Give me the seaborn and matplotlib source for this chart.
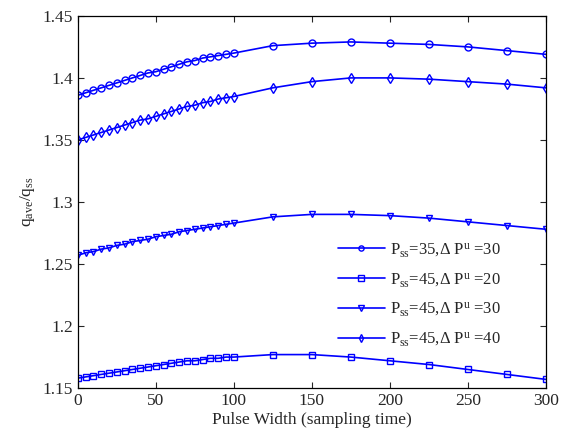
import matplotlib
matplotlib.use("Agg")
import matplotlib.pyplot as plt
import numpy as np
import pandas as pd
import seaborn as sns

PULSE_WIDTH = list(range(0, 101, 5)) + [125, 150, 175, 200, 225, 250, 275, 300]

Q_35_30 = [1.386, 1.388, 1.390, 1.392, 1.394, 1.396, 1.398, 1.400, 1.402, 1.404,
           1.405, 1.407, 1.409, 1.411, 1.413, 1.414, 1.416, 1.417, 1.418, 1.419,
           1.420, 1.426, 1.428, 1.429, 1.428, 1.427, 1.425, 1.422, 1.419]
Q_45_20 = [1.158, 1.159, 1.160, 1.161, 1.162, 1.163, 1.164, 1.165, 1.166, 1.167,
           1.168, 1.169, 1.170, 1.171, 1.172, 1.172, 1.173, 1.174, 1.174, 1.175,
           1.175, 1.177, 1.177, 1.175, 1.172, 1.169, 1.165, 1.161, 1.157]
Q_45_30 = [1.257, 1.259, 1.260, 1.262, 1.263, 1.265, 1.266, 1.268, 1.269, 1.270,
           1.272, 1.273, 1.274, 1.276, 1.277, 1.278, 1.279, 1.280, 1.281, 1.282,
           1.283, 1.288, 1.290, 1.290, 1.289, 1.287, 1.284, 1.281, 1.278]
Q_45_40 = [1.350, 1.352, 1.354, 1.356, 1.358, 1.360, 1.362, 1.364, 1.366, 1.367,
           1.369, 1.371, 1.373, 1.375, 1.377, 1.378, 1.380, 1.381, 1.383, 1.384,
           1.385, 1.392, 1.397, 1.400, 1.400, 1.399, 1.397, 1.395, 1.392]

LABELS = [
    r"$\mathregular{P_{ss}}$=35,$\mathregular{\Delta\ P^u}$ =30",
    r"$\mathregular{P_{ss}}$=45,$\mathregular{\Delta\ P^u}$ =20",
    r"$\mathregular{P_{ss}}$=45,$\mathregular{\Delta\ P^u}$ =30",
    r"$\mathregular{P_{ss}}$=45,$\mathregular{\Delta\ P^u}$ =40",
]
MARKERS = ["o", "s", "v", "d"]


def main():
    sns.set_style("ticks")
    plt.rcParams["font.family"] = ["Liberation Serif", "DejaVu Serif"]
    plt.rcParams["mathtext.fontset"] = "stix"
    plt.rcParams["xtick.direction"] = "in"
    plt.rcParams["ytick.direction"] = "in"

    fig = plt.figure(figsize=(5.68, 4.41), dpi=100)
    ax = fig.add_axes([0.137, 0.120, 0.824, 0.844])

    series = [Q_35_30, Q_45_20, Q_45_30, Q_45_40]
    for vals, label, marker in zip(series, LABELS, MARKERS):
        df = pd.DataFrame({"x": PULSE_WIDTH, "y": vals})
        sns.lineplot(
            data=df, x="x", y="y", ax=ax, color="#0000ff", linewidth=1.2,
            marker=marker, markersize=5,
            markerfacecolor="none", markeredgecolor="#0000ff",
            markeredgewidth=1.0, label=label,
        )

    ax.set_xlim(0, 300)
    ax.set_ylim(1.15, 1.45)
    ax.set_xticks([0, 50, 100, 150, 200, 250, 300])
    ax.set_yticks([1.15, 1.2, 1.25, 1.3, 1.35, 1.4, 1.45])
    ax.set_yticklabels(["1.15", "1.2", "1.25", "1.3", "1.35", "1.4", "1.45"])
    ax.tick_params(labelsize=12.5, top=True, right=True, length=4, width=0.8)
    for sp in ax.spines.values():
        sp.set_linewidth(0.9)
        sp.set_color("black")
    ax.set_xlabel("Pulse Width (sampling time)", fontsize=12.5, labelpad=2)
    ax.set_ylabel(r"$\mathregular{q_{ave}/q_{ss}}$", fontsize=12.5)

    ax.legend(
        loc="upper left", bbox_to_anchor=(338 / 568, 1 - 241 / 441),
        bbox_transform=fig.transFigure, frameon=False, fontsize=12,
        labelspacing=0.72, handlelength=2.8, handletextpad=0.3,
        markerscale=0.75, borderpad=0, borderaxespad=0,
    )

    fig.savefig("out.png", dpi=100)


if __name__ == "__main__":
    main()
